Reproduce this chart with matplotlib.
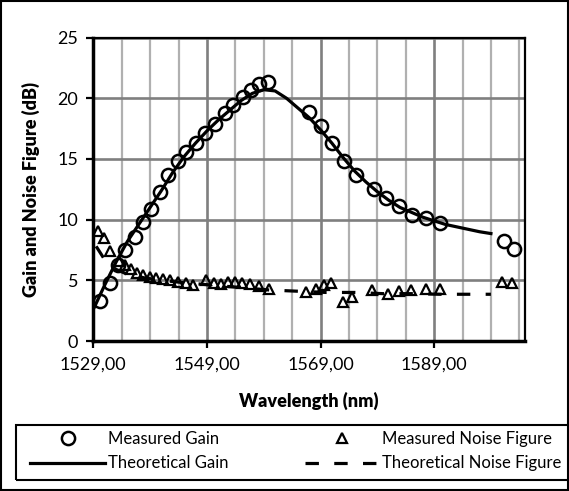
import numpy as np
import matplotlib
matplotlib.use("Agg")
import matplotlib.pyplot as plt
from matplotlib.patches import Rectangle
from matplotlib.ticker import MultipleLocator, FuncFormatter

plt.rcParams['font.family'] = ['Lato', 'DejaVu Sans']

# measured gain (circles)
gain_wl = [1530.2, 1531.9, 1533.3, 1534.5, 1536.3, 1537.8, 1539.2, 1540.7, 1542.2,
           1543.9, 1545.4, 1547.1, 1548.6, 1550.4, 1552.1, 1553.6, 1555.3, 1556.8,
           1558.2, 1559.7, 1567.0, 1569.1, 1571.1, 1573.2, 1575.2, 1578.4, 1580.6,
           1582.8, 1585.1, 1587.5, 1590.1, 1601.3, 1603.1]
gain_meas = [3.3, 4.8, 6.3, 7.5, 8.6, 9.8, 10.9, 12.3, 13.7,
             14.8, 15.6, 16.3, 17.1, 17.9, 18.75, 19.4, 20.1, 20.7,
             21.2, 21.35, 18.9, 17.7, 16.3, 14.8, 13.7, 12.5, 11.75,
             11.1, 10.4, 10.1, 9.7, 8.2, 7.6]

# theoretical gain (solid line)
theo_wl = [1529.2, 1531, 1533, 1535, 1537, 1539, 1541, 1543, 1545, 1547, 1549, 1551,
           1553, 1555, 1557, 1559, 1561, 1563, 1565, 1567, 1569, 1571, 1573, 1575,
           1577, 1579, 1581, 1583, 1585, 1587, 1589, 1591, 1593, 1595, 1597, 1599]
theo_gain = [2.8, 4.6, 6.5, 8.2, 9.6, 11.0, 12.4, 13.9, 15.2, 16.3, 17.3, 18.2,
             19.0, 19.8, 20.4, 20.7, 20.6, 20.0, 19.2, 18.4, 17.4, 16.3, 15.1, 14.0,
             13.1, 12.3, 11.6, 11.0, 10.6, 10.2, 9.9, 9.6, 9.4, 9.2, 9.0, 8.85]

# measured noise figure (triangles)
nf_wl = [1529.8, 1530.9, 1532.0, 1533.5, 1534.5, 1535.6, 1536.7, 1537.8, 1538.9,
         1540.1, 1541.3, 1542.5, 1543.9, 1545.4, 1546.6, 1548.9, 1550.2, 1551.5,
         1552.8, 1554.0, 1555.2, 1556.5, 1558.2, 1560.0, 1566.5, 1568.2, 1569.6,
         1570.9, 1572.9, 1574.6, 1578.1, 1580.8, 1582.8, 1584.9, 1587.5, 1590.1,
         1601.0, 1602.7]
nf_meas = [9.1, 8.5, 7.4, 6.6, 6.3, 5.9, 5.6, 5.4, 5.3,
           5.2, 5.1, 5.0, 4.9, 4.75, 4.6, 5.0, 4.8, 4.7,
           4.9, 4.85, 4.8, 4.7, 4.5, 4.3, 4.0, 4.3, 4.6,
           4.75, 3.2, 3.65, 4.2, 3.9, 4.1, 4.2, 4.3, 4.3,
           4.9, 4.75]

# theoretical noise figure (dashed line)
theo_nf_wl = [1529.5, 1531, 1533, 1535, 1538, 1541, 1545, 1550, 1555, 1560, 1565,
              1570, 1575, 1580, 1585, 1590, 1595, 1599]
theo_nf = [7.8, 6.7, 5.9, 5.5, 5.2, 5.0, 4.8, 4.6, 4.4, 4.2, 4.1,
           4.0, 4.0, 3.9, 3.9, 3.85, 3.85, 3.85]

fig = plt.figure(figsize=(5.69, 4.91), dpi=100)
ax = fig.add_axes([93.3/569, 1-341/491, (525-93.3)/569, (341-37.5)/491])

ax.set_xlim(1529, 1605)
ax.set_ylim(0, 25)
ax.xaxis.set_major_locator(MultipleLocator(20, offset=9))
ax.xaxis.set_minor_locator(MultipleLocator(5, offset=4))
ax.yaxis.set_major_locator(MultipleLocator(5))
ax.xaxis.set_major_formatter(FuncFormatter(lambda v, p: f"{v:.2f}".replace('.', ',')))

# gridlines (Excel style: light minor, darker major)
for v in ax.xaxis.get_minorticklocs():
    ax.axvline(v, color='#b0b0b0', lw=1.6, zorder=1)
for v in ax.xaxis.get_majorticklocs():
    ax.axvline(v, color='#7f7f7f', lw=1.9, zorder=1.1)
for v in ax.yaxis.get_majorticklocs():
    ax.axhline(v, color='#7f7f7f', lw=1.9, zorder=1.1)

ax.plot(gain_wl, gain_meas, 'o', mfc='none', mec='black', mew=1.8, ms=9.5,
        label='Measured Gain', zorder=4)
ax.plot(theo_wl, theo_gain, '-', color='black', lw=2.3, label='Theoretical Gain', zorder=3)
ax.plot(nf_wl, nf_meas, '^', mfc='none', mec='black', mew=1.6, ms=7.5,
        label='Measured Noise Figure', zorder=4)
ax.plot(theo_nf_wl, theo_nf, color='black', lw=2.3, dashes=(4.2, 4.8),
        label='Theoretical Noise Figure', zorder=3)

for s in ax.spines.values():
    s.set_linewidth(1.6)
    s.set_color('black')
    s.set_zorder(5)
ax.spines['left'].set_linewidth(2.5)
ax.spines['bottom'].set_linewidth(2.5)
ax.tick_params(which='major', direction='out', length=5, width=1.6, labelsize=13, pad=6)
ax.tick_params(which='minor', length=0)

ax.set_xlabel('Wavelength (nm)', fontsize=13, fontweight='heavy', labelpad=14)
ax.set_ylabel('Gain and Noise Figure (dB)', fontsize=13, fontweight='heavy', labelpad=12)

h, l = ax.get_legend_handles_labels()
fig.legend(h, l, ncol=2, loc='upper left', bbox_to_anchor=(30/569, 1-431/491),
           frameon=False, fontsize=12, handlelength=4.5, handletextpad=0.15,
           borderaxespad=0, borderpad=0, labelspacing=0.5, columnspacing=4.6,
           numpoints=1)

# legend box and outer chart border
fig.patches.append(Rectangle((16/569, 1-480/491), 560/569, 55/491, transform=fig.transFigure,
                             fill=False, edgecolor='black', lw=1.5))
fig.patches.append(Rectangle((0.002, 0.002), 0.996, 0.996, transform=fig.transFigure,
                             fill=False, edgecolor='black', lw=1.5))

fig.savefig('out.png', dpi=100)
